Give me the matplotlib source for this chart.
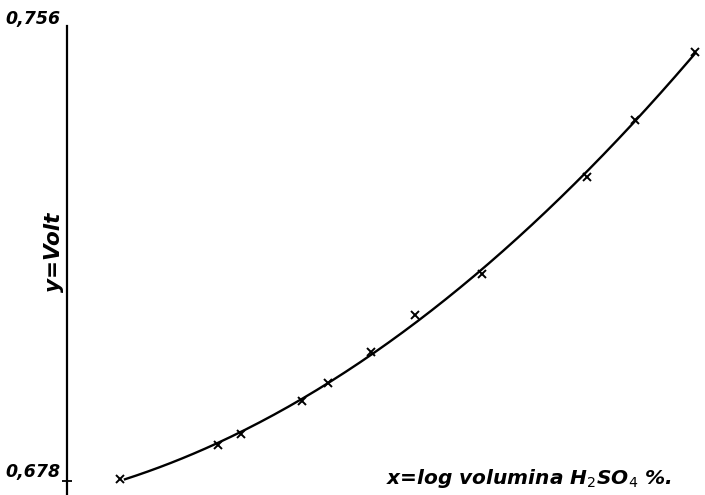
import numpy as np
import matplotlib
matplotlib.use("Agg")
import matplotlib.pyplot as plt

# measured points: x = log volume-% H2SO4 (arbitrary units), y = potential in volt
log_vol = [0.53, 1.51, 1.74, 2.35, 2.61, 3.04, 3.48, 4.15, 5.20, 5.68, 6.28]
volt = [0.6783, 0.6842, 0.6861, 0.6918, 0.6949, 0.7002, 0.7066, 0.7137, 0.7304, 0.7402, 0.7519]

ytick_vals = [0.678, 0.756]
ytick_labels = ["0,678", "0,756"]

px = 0.078 / 453  # volt per pixel of the vertical scale

fig = plt.figure(figsize=(7.05, 4.95), dpi=100)
ax = fig.add_axes([67 / 705, 0.0, 1 - 67 / 705, 1 - 26 / 495])

# smooth fitted curve through the measurements
coef = np.polyfit(log_vol, volt, 2)
xs = np.linspace(log_vol[0] + 0.05, log_vol[-1], 200)
ax.plot(xs, np.polyval(coef, xs), color="black", lw=1.7)
ax.plot(log_vol, volt, linestyle="none", marker="x", color="black",
        markersize=6, markeredgewidth=1.4)

ax.set_xlim(0, 6.38)
ax.set_ylim(0.678 - 14 * px, 0.756 + 2 * px)

for side in ("top", "right", "bottom"):
    ax.spines[side].set_visible(False)
ax.spines["left"].set_linewidth(1.6)
ax.set_xticks([])
ax.set_yticks(ytick_vals)
ax.set_yticklabels(ytick_labels, fontsize=12.5, fontweight="bold", style="italic",
                   family="DejaVu Sans", va="bottom")
ax.tick_params(axis="y", direction="inout", length=7, width=1.3, pad=1)
ax.yaxis.get_major_ticks()[1].tick1line.set_visible(False)

ax.set_ylabel("y=Volt", fontsize=15.5, fontweight="bold", style="italic",
              family="DejaVu Sans")
ax.yaxis.set_label_coords(-0.005, 0.518)

ax.text(0.948, 0.036, r"x=log volumina H$_2$SO$_4$ %.", transform=ax.transAxes,
        ha="right", va="center", fontsize=14.5, fontweight="bold", style="italic",
        family="DejaVu Sans")

fig.savefig("out.png", dpi=100)
